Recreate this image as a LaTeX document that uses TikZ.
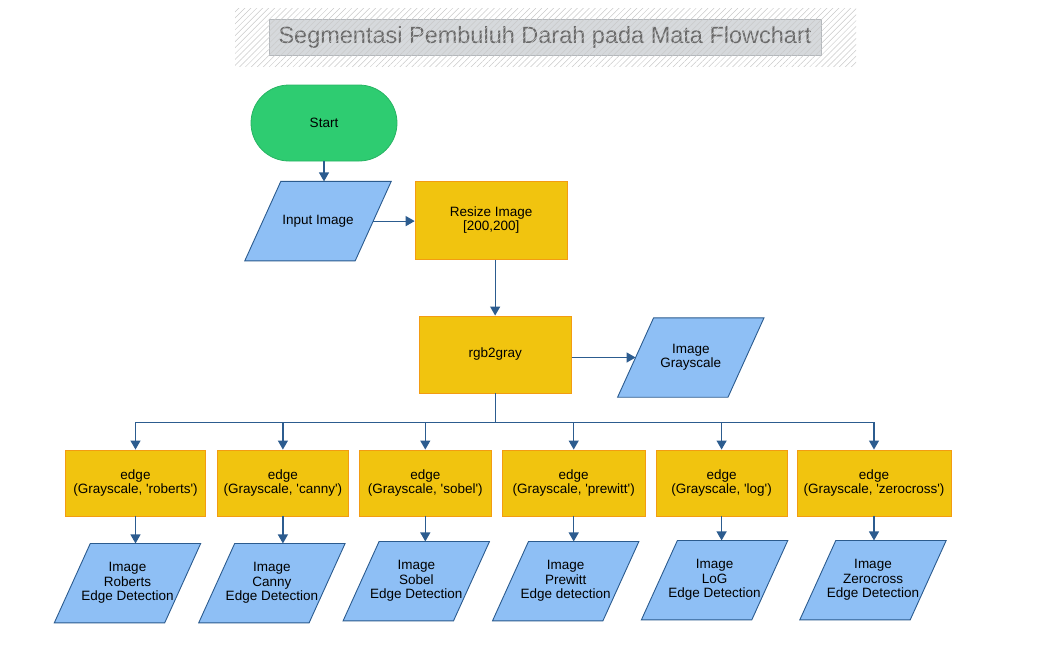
\documentclass[tikz,border=0pt]{standalone}
\usepackage{fontspec}
\setmainfont{Liberation Sans}
\usepackage{tikz}
\usetikzlibrary{positioning, arrows.meta, backgrounds, patterns.meta}
\definecolor{procfill}{HTML}{F1C40F}
\definecolor{procline}{HTML}{F39C12}
\definecolor{iofill}{HTML}{8EBFF5}
\definecolor{ioline}{HTML}{2B5B8E}
\definecolor{termfill}{HTML}{2ECC71}
\definecolor{termline}{HTML}{27B463}
\definecolor{flowc}{HTML}{2C5C8F}
\definecolor{ttlfill}{HTML}{D6D9DC}
\definecolor{ttlline}{HTML}{B4B8BC}
\definecolor{ttltext}{HTML}{6A6A6A}
\definecolor{hatchc}{HTML}{C9C9C9}
\newcommand{\q}{\textquotesingle}

\begin{document}
\begin{tikzpicture}[
  x=1pt, y=-1pt,
  font=\fontsize{13.5}{14.5}\selectfont,
  termbox/.style={draw=termline, fill=termfill, rounded corners=38pt,
              minimum width=146pt, minimum height=76pt, line width=0.8pt},
  procbox/.style={draw=procline, fill=procfill, line width=0.9pt,
              minimum height=66pt, align=center, inner sep=2pt},
  iobox/.style={minimum width=146pt, minimum height=79pt, align=center,
              inner sep=1pt},
  ioshape/.style={draw=ioline, fill=iofill, line width=0.9pt},
  flow/.style={draw=flowc, line width=1.2pt},
  >={Triangle[width=10pt,length=9pt]}
]
  \useasboundingbox (0,0) rectangle (1050,645);

  % Title
  \node[draw=ttlline, fill=ttlfill, minimum width=552pt, minimum height=36pt,
        text=ttltext, font=\fontsize{23.5}{28}\selectfont] (ttl) at (545,37)
    {Segmentasi Pembuluh Darah pada Mata Flowchart};
  \fill[pattern={Lines[angle=45,distance=4.2pt,line width=0.5pt]},
        pattern color=hatchc] (235,8) rectangle (856,66);

  % Start and input
  \node[termbox] (start) at (324,123) {Start};
  \node[iobox, below=20pt of start, xshift=-6pt] (inimg) {Input Image};
  \node[procbox, minimum width=152pt, minimum height=78pt, right=23.5pt of inimg,
        yshift=1pt] (resize) {Resize Image\\{[200,200]}};

  % Grayscale
  \node[procbox, minimum width=152pt, minimum height=77pt, below=56pt of resize,
        xshift=4pt] (rgbgray) {rgb2gray};
  \node[iobox, right=46pt of rgbgray, yshift=-3pt] (imggray) {Image\\Grayscale};

  % Edge detectors
  \node[procbox, minimum width=140pt] (e1) at (135.5,483)
    {edge\\(Grayscale, \q roberts\q)};
  \node[procbox, minimum width=131pt, right=11pt of e1] (e2)
    {edge\\(Grayscale, \q canny\q)};
  \node[procbox, minimum width=132pt, right=10pt of e2] (e3)
    {edge\\(Grayscale, \q sobel\q)};
  \node[procbox, minimum width=143pt, right=10pt of e3] (e4)
    {edge\\(Grayscale, \q prewitt\q)};
  \node[procbox, minimum width=131pt, right=10pt of e4] (e5)
    {edge\\(Grayscale, \q log\q)};
  \node[procbox, minimum width=154pt, right=9pt of e5] (e6)
    {edge\\(Grayscale, \q zerocross\q)};

  % Results
  \node[iobox, below=27pt of e1, xshift=-8pt] (o1) {Image\\Roberts\\Edge Detection};
  \node[iobox, below=27pt of e2, xshift=-11pt] (o2) {Image\\Canny\\Edge Detection};
  \node[iobox, below=25pt of e3, xshift=-9pt] (o3) {Image\\Sobel\\Edge Detection};
  \node[iobox, below=25pt of e4, xshift=-8pt] (o4) {Image\\Prewitt\\Edge detection};
  \node[iobox, below=24pt of e5, xshift=-7pt] (o5) {Image\\LoG\\Edge Detection};
  \node[iobox, below=24pt of e6, xshift=-1pt] (o6) {Image\\Zerocross\\Edge Detection};

  % Parallelograms behind the io texts
  \begin{scope}[on background layer]
    \foreach \n in {inimg,imggray,o1,o2,o3,o4,o5,o6}
      \path[ioshape] ([xshift=36pt]\n.north west) -- (\n.north east)
        -- ([xshift=-36pt]\n.south east) -- (\n.south west) -- cycle;
  \end{scope}

  % Arrows
  \draw[flow, ->] (start.south) -- (start.south |- inimg.north);
  \draw[flow, ->] ([xshift=-18pt]inimg.east) -- (resize.west |- inimg.east);
  \draw[flow, ->] (rgbgray.north |- resize.south) -- (rgbgray.north);
  \draw[flow, ->] (rgbgray.east |- imggray.west) -- ([xshift=18pt]imggray.west);
  \draw[flow] (rgbgray.south) -- ++(0,29) coordinate (bus);
  \draw[flow] (bus -| e1.north) -- (bus -| e6.north);
  \foreach \e in {e1,e2,e3,e4,e5,e6}
    \draw[flow, ->] (bus -| \e.north) -- (\e.north);
  \foreach \e/\o in {e1/o1,e2/o2,e3/o3,e4/o4,e5/o5,e6/o6}
    \draw[flow, ->] (\e.south) -- (\e.south |- \o.north);
\end{tikzpicture}
\end{document}
